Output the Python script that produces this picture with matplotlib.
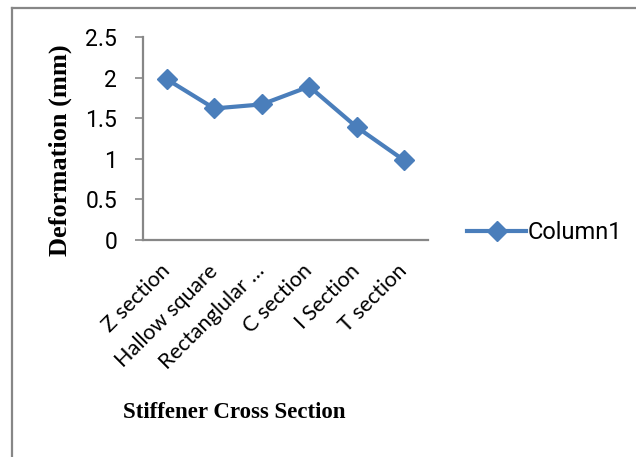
import matplotlib.pyplot as plt
from matplotlib.lines import Line2D

# Data
sections = ['Z section', 'Hallow square', 'Rectanglular …', 'C section', 'I Section', 'T section']
deformation = [1.98, 1.62, 1.67, 1.89, 1.39, 0.98]
yticks = [0, 0.5, 1, 1.5, 2, 2.5]
ytick_labels = ['0', '0.5', '1', '1.5', '2', '2.5']

blue = '#4A7EBB'
gray = '#878787'

fig = plt.figure(figsize=(6.36, 4.57), dpi=100)
ax = fig.add_axes([143 / 636, 1 - 240 / 457, 285 / 636, 203 / 457])

x = range(len(sections))
ax.plot(x, deformation, color=blue, linewidth=3, marker='D', markersize=10,
        markerfacecolor=blue, markeredgecolor=blue, label='Column1')

ax.set_xlim(-0.5, len(sections) - 0.5)
ax.set_ylim(0, 2.5)
ax.set_yticks(yticks)
ax.set_yticklabels(ytick_labels, fontfamily='Roboto', fontsize=16.5)
ax.set_xticks(list(x))
ax.set_xticklabels(sections, fontfamily='Lato', fontsize=15.5, rotation=45,
                   ha='right', va='center', rotation_mode='anchor')

ax.tick_params(axis='y', direction='out', length=5.5, width=1.2, color=gray, pad=13)
ax.tick_params(axis='x', length=0, pad=20)

for side in ['top', 'right']:
    ax.spines[side].set_visible(False)
for side in ['left', 'bottom']:
    ax.spines[side].set_color(gray)
    ax.spines[side].set_linewidth(1.6)

fig.text(60 / 636, 1 - 150 / 457, 'Deformation (mm)', rotation=90, ha='center', va='center',
         fontfamily='Liberation Serif', fontweight='bold', fontsize=19)
fig.text(234 / 636, 1 - 412 / 457, 'Stiffener Cross Section', ha='center', va='center',
         fontfamily='Liberation Serif', fontweight='bold', fontsize=16.5)

leg = fig.legend(handles=[Line2D([0], [0], color=blue, linewidth=3, marker='D', markersize=10)],
                 labels=['Column1'], loc='center left', bbox_to_anchor=(446 / 636, 1 - 233 / 457),
                 frameon=False, handlelength=2.5, handletextpad=0.05,
                 prop={'family': 'Roboto', 'size': 17})

# outer chart border (top and left only visible)
fig.add_artist(Line2D([12 / 636, 1], [1 - 8 / 457, 1 - 8 / 457], color=gray, linewidth=1.6))
fig.add_artist(Line2D([12 / 636, 12 / 636], [0, 1 - 8 / 457], color=gray, linewidth=1.6))

fig.savefig('out.png', dpi=100)
